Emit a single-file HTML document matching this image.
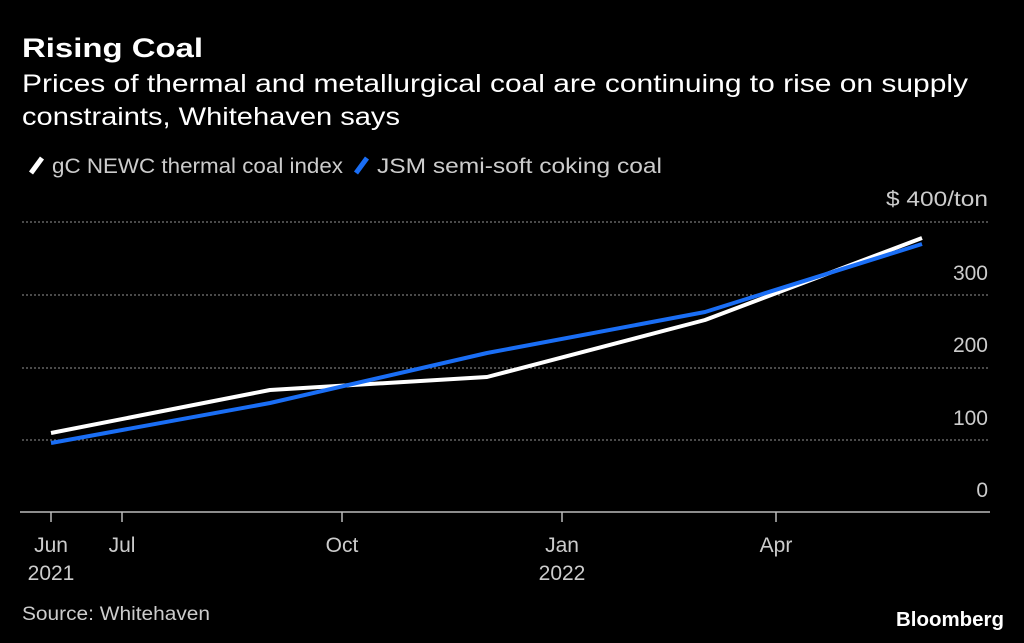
<!DOCTYPE html>
<html><head><style>
html,body{margin:0;padding:0;background:#000;}
svg{display:block;}
text{font-family:"Liberation Sans",sans-serif;}
</style></head><body>
<svg width="1024" height="643" viewBox="0 0 1024 643" xmlns="http://www.w3.org/2000/svg">
<rect width="1024" height="643" fill="#000"/>
<text x="22" y="57" fill="#fff" font-size="27" font-weight="bold" textLength="181" lengthAdjust="spacingAndGlyphs">Rising Coal</text>
<text x="22" y="92" fill="#fff" font-size="25" textLength="946" lengthAdjust="spacingAndGlyphs">Prices of thermal and metallurgical coal are continuing to rise on supply</text>
<text x="22" y="125" fill="#fff" font-size="25" textLength="378" lengthAdjust="spacingAndGlyphs">constraints, Whitehaven says</text>
<line x1="31" y1="173" x2="42" y2="158" stroke="#fff" stroke-width="5"/>
<text x="52" y="173" fill="#ccc" font-size="21" textLength="291" lengthAdjust="spacingAndGlyphs">gC NEWC thermal coal index</text>
<line x1="356" y1="173" x2="367" y2="158" stroke="#1a6ef5" stroke-width="5"/>
<text x="377" y="173" fill="#ccc" font-size="21" textLength="285" lengthAdjust="spacingAndGlyphs">JSM semi-soft coking coal</text>
<g stroke="#777" stroke-width="1.2" stroke-dasharray="2,2">
<line x1="22" y1="222" x2="988" y2="222"/>
<line x1="22" y1="295" x2="988" y2="295"/>
<line x1="22" y1="368" x2="988" y2="368"/>
<line x1="22" y1="440" x2="988" y2="440"/>
</g>
<line x1="20" y1="512" x2="990" y2="512" stroke="#bbb" stroke-width="1.5"/>
<g fill="#ccc" font-size="21" text-anchor="end">
<text x="988" y="206" textLength="102" lengthAdjust="spacingAndGlyphs">$ 400/ton</text>
<text x="988" y="280">300</text>
<text x="988" y="352">200</text>
<text x="988" y="425">100</text>
<text x="988" y="497">0</text>
</g>
<g stroke="#bbb" stroke-width="1.5">
<line x1="51" y1="512" x2="51" y2="522"/>
<line x1="122" y1="512" x2="122" y2="522"/>
<line x1="342" y1="512" x2="342" y2="522"/>
<line x1="562" y1="512" x2="562" y2="522"/>
<line x1="776" y1="512" x2="776" y2="522"/>
</g>
<g fill="#ccc" font-size="21" text-anchor="middle">
<text x="51" y="552">Jun</text>
<text x="51" y="580">2021</text>
<text x="122" y="552">Jul</text>
<text x="342" y="552">Oct</text>
<text x="562" y="552">Jan</text>
<text x="562" y="580">2022</text>
<text x="776" y="552">Apr</text>
</g>
<polyline points="51,433 270,390 487,377 705,320 922,238" fill="none" stroke="#fff" stroke-width="4" stroke-linejoin="round"/>
<polyline points="51,443 270,403 487,353 705,312 922,244" fill="none" stroke="#1a6ef5" stroke-width="4" stroke-linejoin="round"/>
<text x="22" y="620" fill="#ccc" font-size="19" textLength="188" lengthAdjust="spacingAndGlyphs">Source: Whitehaven</text>
<text x="1004" y="626" fill="#fff" font-size="20" font-weight="bold" text-anchor="end" textLength="108" lengthAdjust="spacingAndGlyphs">Bloomberg</text>
</svg>
</body></html>
